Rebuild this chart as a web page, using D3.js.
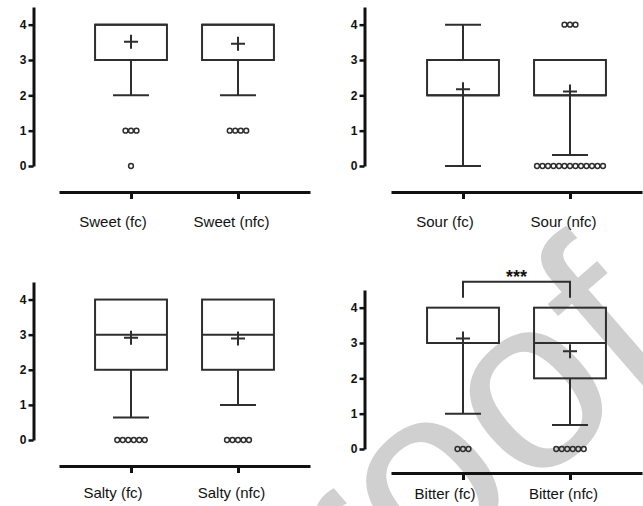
<!DOCTYPE html>
<html>
<head>
<meta charset="utf-8">
<script src="https://cdn.jsdelivr.net/npm/d3@7"></script>
<style>
  body { margin: 0; background: #fff; }
  svg { display: block; font-family: "Liberation Sans", Arial, sans-serif; }
</style>
</head>
<body>
<div id="chart"></div>
<script>
// box plot summaries, one entry per group
var groups = ['Sweet (fc)', 'Sweet (nfc)', 'Sour (fc)', 'Sour (nfc)', 'Salty (fc)', 'Salty (nfc)', 'Bitter (fc)', 'Bitter (nfc)']
var q1 = [3, 3, 2, 2, 2, 2, 3, 2]
var median = [4, 4, 2, 2, 3, 3, 3, 3]
var q3 = [4, 4, 3, 3, 4, 4, 4, 4]
var whiskerLow = [2, 2, 0, 0.31, 0.64, 1, 1, 0.68]
var whiskerHigh = [4, 4, 4, 3, 4, 4, 4, 4]
var means = [3.52, 3.46, 2.17, 2.11, 2.91, 2.89, 3.13, 2.77]
var outliers = [
  [1, 1, 1, 0],
  [1, 1, 1, 1],
  [],
  [4, 4, 4, 0, 0, 0, 0, 0, 0, 0, 0, 0, 0, 0, 0, 0],
  [0, 0, 0, 0, 0, 0],
  [0, 0, 0, 0, 0],
  [0, 0, 0],
  [0, 0, 0, 0, 0, 0]
]
var yTicks = [0, 1, 2, 3, 4]
var sigLabel = '***'

var ink = '#2e2e2e'
var axisInk = '#111'

var panels = [
  {idx: [0, 1], x0: 59, x1: 310, axisX: 33.5, top: 7, bottom: 166, xAxisY: 192, labelY: 227},
  {idx: [2, 3], x0: 391, x1: 642, axisX: 364.5, top: 7, bottom: 166, xAxisY: 192, labelY: 227},
  {idx: [4, 5], x0: 59, x1: 310, axisX: 33.5, top: 282, bottom: 440, xAxisY: 466, labelY: 498},
  {idx: [6, 7], x0: 391, x1: 642, axisX: 364.5, top: 290, bottom: 449, xAxisY: 473, labelY: 499, sig: true}
]
var labelShift = [-18, -6.5]

var svg = d3.select('#chart').append('svg')
  .attr('width', 643)
  .attr('height', 506)

// "Proof" watermark sits behind everything
svg.append('text')
  .attr('transform', 'translate(237,747) rotate(-41)')
  .style('font-size', '247px')
  .style('fill', '#d0d0d0')
  .text('Proof')

panels.forEach(function(p) {
  var g = svg.append('g')

  var x = d3.scalePoint()
    .domain(p.idx)
    .range([p.x0, p.x1])
    .padding(0.673)

  var y = d3.scaleLinear()
    .domain([0, 4.5])
    .range([p.bottom, p.top])

  var half = x.step() * 0.336
  var capHalf = half / 2

  var yAxis = g.append('g')
    .attr('transform', 'translate(' + p.axisX + ',0)')
    .call(d3.axisLeft(y).tickValues(yTicks).tickFormat(d3.format('d'))
      .tickSize(5).tickSizeOuter(0).tickPadding(2))
  yAxis.select('.domain').attr('stroke', axisInk).attr('stroke-width', 3)
  yAxis.selectAll('.tick line').attr('stroke', axisInk).attr('stroke-width', 2.5)
  yAxis.selectAll('.tick text')
    .attr('fill', axisInk)
    .style('font-size', '12px')
    .style('font-weight', 'bold')
    .style('font-family', '"Liberation Sans", Arial, sans-serif')

  var xAxis = g.append('g')
    .attr('transform', 'translate(0,' + p.xAxisY + ')')
    .call(d3.axisBottom(x).tickSize(7).tickSizeOuter(0).tickFormat(''))
  xAxis.select('.domain').attr('stroke', axisInk).attr('stroke-width', 3)
  xAxis.selectAll('.tick line').attr('stroke', axisInk).attr('stroke-width', 3)

  g.selectAll('.cat-label')
    .data(p.idx)
    .enter().append('text')
    .attr('class', 'cat-label')
    .attr('x', function(d, j) { return x(d) + labelShift[j] })
    .attr('y', p.labelY)
    .attr('text-anchor', 'middle')
    .style('font-size', '15px')
    .attr('fill', '#111')
    .text(function(d) { return groups[d] })

  var box = g.selectAll('.box')
    .data(p.idx)
    .enter().append('g')
    .attr('class', 'box')
    .attr('fill', 'none')
    .attr('stroke', ink)
    .attr('stroke-width', 2)

  // lower whisker + cap
  box.append('line')
    .attr('x1', function(d) { return x(d) }).attr('x2', function(d) { return x(d) })
    .attr('y1', function(d) { return y(q1[d]) }).attr('y2', function(d) { return y(whiskerLow[d]) })
  box.filter(function(d) { return whiskerLow[d] < q1[d] }).append('line')
    .attr('x1', function(d) { return x(d) - capHalf }).attr('x2', function(d) { return x(d) + capHalf })
    .attr('y1', function(d) { return y(whiskerLow[d]) }).attr('y2', function(d) { return y(whiskerLow[d]) })

  // upper whisker + cap
  box.filter(function(d) { return whiskerHigh[d] > q3[d] }).append('line')
    .attr('x1', function(d) { return x(d) }).attr('x2', function(d) { return x(d) })
    .attr('y1', function(d) { return y(q3[d]) }).attr('y2', function(d) { return y(whiskerHigh[d]) })
  box.filter(function(d) { return whiskerHigh[d] > q3[d] }).append('line')
    .attr('x1', function(d) { return x(d) - capHalf }).attr('x2', function(d) { return x(d) + capHalf })
    .attr('y1', function(d) { return y(whiskerHigh[d]) }).attr('y2', function(d) { return y(whiskerHigh[d]) })

  box.append('rect')
    .attr('x', function(d) { return x(d) - half })
    .attr('width', half * 2)
    .attr('y', function(d) { return y(q3[d]) })
    .attr('height', function(d) { return y(q1[d]) - y(q3[d]) })

  box.append('line')
    .attr('x1', function(d) { return x(d) - half }).attr('x2', function(d) { return x(d) + half })
    .attr('y1', function(d) { return y(median[d]) }).attr('y2', function(d) { return y(median[d]) })

  // mean marker "+"
  box.append('path')
    .attr('d', function(d) {
      var cx = x(d), cy = y(means[d])
      return 'M' + (cx - 7) + ',' + cy + 'H' + (cx + 7) + 'M' + cx + ',' + (cy - 7) + 'V' + (cy + 7)
    })

  // outliers, spread sideways where values repeat
  box.each(function(d) {
    var counts = d3.rollup(outliers[d], function(v) { return v.length }, function(v) { return v })
    var pts = []
    counts.forEach(function(n, v) {
      for (var k = 0; k < n; k++) pts.push({v: v, off: (k - (n - 1) / 2) * 5.5})
    })
    d3.select(this).selectAll('circle')
      .data(pts)
      .enter().append('circle')
      .attr('cx', function(o) { return x(d) + o.off })
      .attr('cy', function(o) { return y(o.v) })
      .attr('r', 2.4)
      .attr('stroke-width', 1.5)
      .attr('fill', 'none')
  })

  if (p.sig) {
    var a = x(p.idx[0]), b = x(p.idx[1])
    var top = y(4.73), leg = y(4.28)
    g.append('path')
      .attr('d', 'M' + a + ',' + leg + 'V' + top + 'H' + b + 'V' + leg)
      .attr('fill', 'none')
      .attr('stroke', ink)
      .attr('stroke-width', 2)
    g.append('text')
      .attr('x', (a + b) / 2)
      .attr('y', top + 1)
      .attr('text-anchor', 'middle')
      .style('font-size', '18px')
      .style('font-weight', 'bold')
      .attr('fill', '#111')
      .text(sigLabel)
  }
})
</script>
</body>
</html>
